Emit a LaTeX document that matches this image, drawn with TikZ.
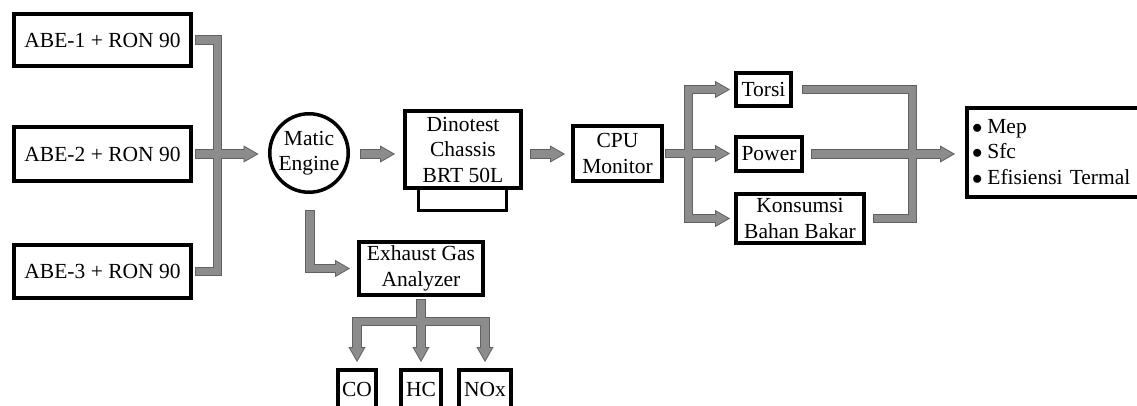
\documentclass[tikz,border=0pt]{standalone}
\usepackage{fontspec}
\setmainfont{Liberation Serif}
\usetikzlibrary{arrows.meta,calc}
\pgfdeclarelayer{po}
\pgfdeclarelayer{pi}
\pgfsetlayers{main,po,pi}
\newcommand\fs{\fontsize{21.5}{25.5}\selectfont}
\newcommand\bul{$\bullet$\hspace{5pt}}
\tikzset{
  box/.style={draw, line width=4pt, inner sep=0pt, align=center, font=\fs},
  pout/.style={draw=black!62, line width=9.6pt},
  pin/.style={draw=black!45, line width=7.6pt, shorten <=1pt},
  tipped/.style={-{Triangle[length=15pt,width=17pt,line width=0.8pt,fill=black!45,color=black!62]}},
}
\newcommand\parrow[1]{%
  \begin{pgfonlayer}{po}\draw[pout,tipped] #1;\end{pgfonlayer}%
  \begin{pgfonlayer}{pi}\draw[pin,shorten >=13pt] #1;\end{pgfonlayer}}
\newcommand\pline[1]{%
  \begin{pgfonlayer}{po}\draw[pout] #1;\end{pgfonlayer}%
  \begin{pgfonlayer}{pi}\draw[pin,shorten >=1pt] #1;\end{pgfonlayer}}
\begin{document}
\begin{tikzpicture}[x=1pt,y=-1pt]
\useasboundingbox (0,0) rectangle (1137,405);
% nodes
\node[box, minimum width=177, minimum height=52] (abe1) at (102.5,40) {ABE-1 + RON 90};
\node[box, minimum width=177, minimum height=54] (abe2) at (102.5,154) {ABE-2 + RON 90};
\node[box, minimum width=177, minimum height=53] (abe3) at (102.5,271.5) {ABE-3 + RON 90};
\node[box, circle, line width=3.5pt, minimum size=78.5] (eng) at (309,153) {Matic\\Engine};
\node[draw, line width=3pt, minimum width=88, minimum height=22, inner sep=0pt] (ped) at (462.5,199.5) {};
\node[box, fill=white, minimum width=116, minimum height=77] (dino) at (463,149.5) {Dinotest\\Chassis\\BRT 50L};
\node[box, minimum width=89, minimum height=55] (cpu) at (617.5,153.5) {CPU\\Monitor};
\node[box, minimum width=124, minimum height=53] (exh) at (421,268.5) {Exhaust Gas\\Analyzer};
\node[box, minimum width=38, minimum height=38] (co) at (357,389) {CO};
\node[box, minimum width=40, minimum height=38] (hc) at (421,389) {HC};
\node[box, minimum width=52, minimum height=38] (nox) at (485,389) {NOx};
\node[box, minimum width=55, minimum height=33] (torsi) at (763.5,89.5) {Torsi};
\node[box, minimum width=66, minimum height=34] (power) at (769,154) {Power};
\node[box, minimum width=128, minimum height=49] (kons) at (800,218.5) {Konsumsi\\Bahan Bakar};
\node[box, anchor=west, minimum height=89, text width=168pt, inner xsep=5pt, align=left] (res) at (965,152) {\bul Mep\\\bul Sfc\\\bul Efisiensi Termal};
% helper coordinates
\coordinate (lt) at (217.5,0);
\coordinate (row) at (0,154);
\coordinate (rt) at (688.5,0);
\coordinate (rt2) at (912.5,0);
\coordinate (hb) at (0,321.5);
% left group
\pline{($(abe1.east)+(2,0)$) -| (lt |- abe3.east) -- ($(abe3.east)+(2,0)$)}
\parrow{($(abe2.east)+(2,0)$) -- ($(eng.west |- abe2.east)+(-9.5,0)$)}
\parrow{($(eng.east |- row)+(10,0)$) -- ($(dino.west |- row)+(-8,0)$)}
\parrow{($(dino.east |- row)+(7,0)$) -- ($(cpu.west |- row)+(-6,0)$)}
% right group
\parrow{(rt |- kons) -- (rt |- torsi) -- ($(torsi.west)+(-4,0)$)}
\parrow{(rt |- torsi) -- (rt |- kons) -- ($(kons.west)+(-4,0)$)}
\parrow{($(cpu.east)+(1,0)$) -- ($(power.west |- cpu.east)+(-4,0)$)}
\pline{($(torsi.east)+(9,0)$) -- (rt2 |- torsi) -- (rt2 |- kons) -- ($(kons.east)+(7,0)$)}
\parrow{($(power.east)+(7,0)$) -- ($(res.west |- power.east)+(-10,0)$)}
% exhaust
\parrow{($(eng.south)+(1,16)$) |- ($(exh.west)+(-7,0)$)}
\parrow{($(exh.south)+(0,2)$) -- (exh.south |- hb) -- (co |- hb) -- ($(co.north)+(0,-6)$)}
\parrow{($(exh.south)+(0,2)$) -- (exh.south |- hb) -- (nox |- hb) -- ($(nox.north)+(0,-6)$)}
\parrow{($(exh.south)+(0,2)$) -- ($(hc.north)+(0,-6)$)}
\end{tikzpicture}
\end{document}
